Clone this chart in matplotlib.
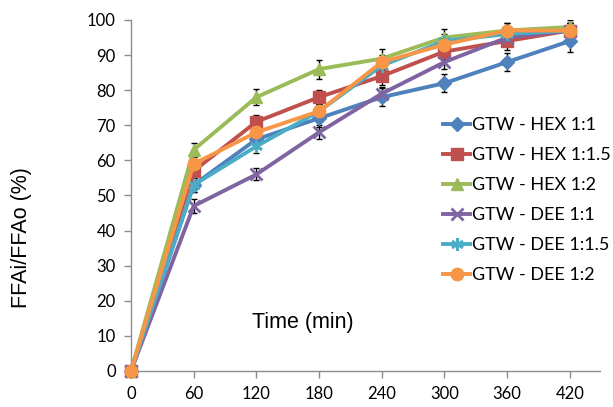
import matplotlib
matplotlib.use("Agg")
import matplotlib.pyplot as plt

# time points (min)
time_min = [0, 60, 120, 180, 240, 300, 360, 420]

# FFAi/FFAo (%) per solvent system
hex_11 = [0, 53, 66, 72, 78, 82, 88, 94]
hex_115 = [0, 57, 71, 78, 84, 91, 94, 97]
hex_12 = [0, 63, 78, 86, 89, 95, 97, 98]
dee_11 = [0, 47, 56, 68, 79, 88, 95, 97]
dee_115 = [0, 53, 64, 74, 87, 94, 96, 97]
dee_12 = [0, 59, 68, 74, 88, 93, 97, 97]

# rough error bars
err_hex_11 = [0, 2, 2, 2.5, 2.5, 2.5, 2.5, 3]
err_hex_115 = [0, 2, 2, 2, 2.5, 2.5, 2.5, 2]
err_hex_12 = [0, 2, 2.3, 2.7, 2.7, 2.5, 2, 2]
err_dee_11 = [0, 2, 1.7, 2, 2, 2, 2, 2]
err_dee_115 = [0, 2, 2, 2, 2, 2, 2, 2]
err_dee_12 = [0, 2, 2, 2, 2, 2, 2, 2]

labels = ["GTW - HEX 1:1", "GTW - HEX 1:1.5", "GTW - HEX 1:2",
          "GTW - DEE 1:1", "GTW - DEE 1:1.5", "GTW - DEE 1:2"]
series = [hex_11, hex_115, hex_12, dee_11, dee_115, dee_12]
errors = [err_hex_11, err_hex_115, err_hex_12, err_dee_11, err_dee_115, err_dee_12]
colors = ["#4F81BD", "#C0504D", "#9BBB59", "#8064A2", "#4BACC6", "#F79646"]
markers = ["D", "s", "^", "x", (6, 2, 0), "o"]
msizes = [7, 8, 8, 9, 9, 9]

fig = plt.figure(figsize=(6.13, 4.07), dpi=100)
ax = fig.add_axes([0.2137, 0.0885, 0.7653, 0.8624])

for y, e, lab, c, m, ms in zip(series, errors, labels, colors, markers, msizes):
    ax.errorbar(time_min, y, yerr=e, fmt="none", ecolor="black",
                elinewidth=1, capsize=2.5, capthick=1, zorder=2)
    ax.plot(time_min, y, color=c, lw=2.8, marker=m, markersize=ms,
            markeredgewidth=2 if m in ("x", (6, 2, 0)) else 1,
            markeredgecolor=c, label=lab, clip_on=False, zorder=3)

ax.set_xlim(0, 449)
ax.set_ylim(0, 100)
ax.set_xticks(time_min)
ax.set_yticks(range(0, 101, 10))

for s in ["top", "right"]:
    ax.spines[s].set_visible(False)
for s in ["left", "bottom"]:
    ax.spines[s].set_color("#8C8C8C")
    ax.spines[s].set_linewidth(1)
ax.tick_params(colors="#8C8C8C", length=5, width=1, labelcolor="black",
               labelsize=12)
ax.tick_params(axis="y", pad=6)
ax.tick_params(axis="x", pad=6)
for t in ax.get_xticklabels() + ax.get_yticklabels():
    t.set_family("Lato")

fig.text(22 / 613, 1 - 238 / 407, "FFAi/FFAo (%)", family="Liberation Sans",
         fontsize=15.5, rotation=90, ha="center", va="center")
ax.text(116, 12.2, "Time (min)", family="Liberation Sans", fontsize=15.5,
        va="baseline")

leg = ax.legend(loc="upper left", bbox_to_anchor=(443 / 613, 1 - 117 / 407),
                bbox_transform=fig.transFigure, frameon=False,
                prop={"family": "Lato", "size": 13}, handlelength=1.5,
                handletextpad=0.1, labelspacing=0.78, borderpad=0,
                borderaxespad=0)

fig.savefig("out.png", dpi=100)
